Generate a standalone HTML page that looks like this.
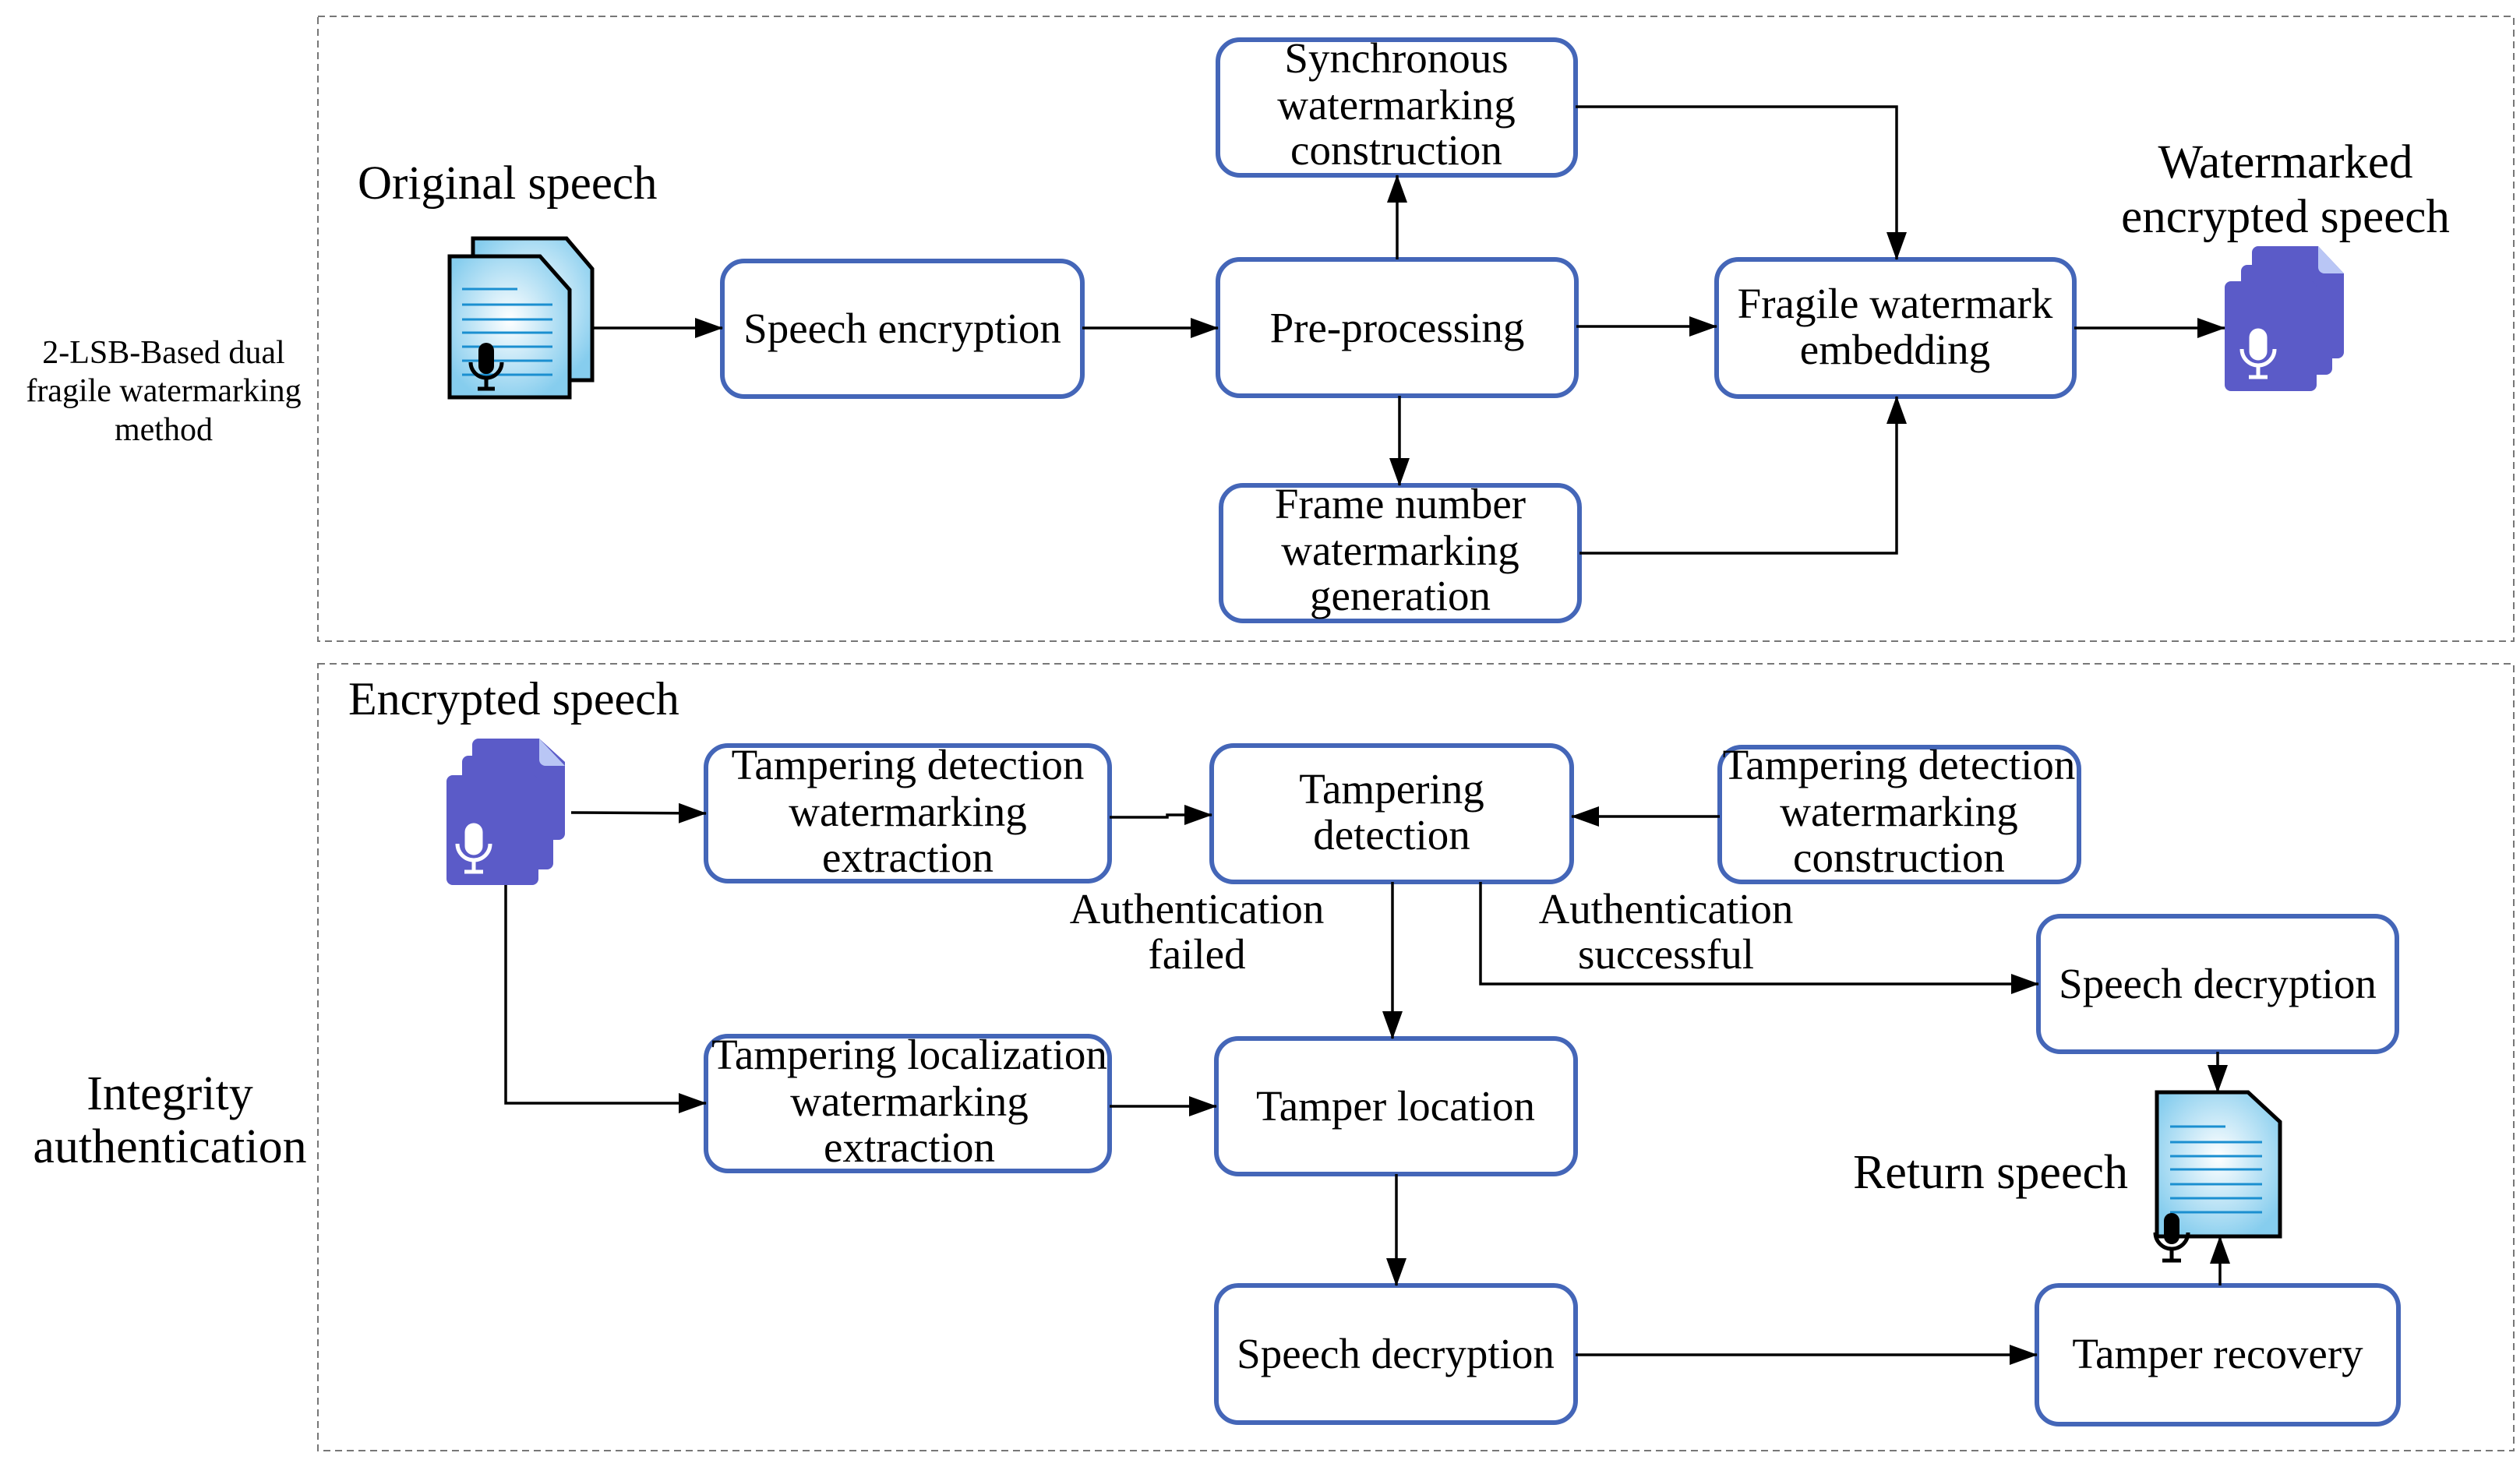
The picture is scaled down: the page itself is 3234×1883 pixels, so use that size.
<!DOCTYPE html>
<html><head><meta charset="utf-8"><style>
html,body{margin:0;padding:0;background:#fff;}
svg{display:block;}
text{font-family:"Liberation Serif",serif;fill:#000;}
.b{fill:#fff;stroke:#4466b8;stroke-width:6;}
.l{fill:none;stroke:#000;stroke-width:3.5;}
.t{font-size:55px;text-anchor:middle;}
</style></head><body>
<svg width="3234" height="1883" viewBox="0 0 3234 1883" xmlns="http://www.w3.org/2000/svg">
<defs>
<marker id="ar" viewBox="0 0 36 26" refX="35" refY="13" markerWidth="36" markerHeight="26" orient="auto" markerUnits="userSpaceOnUse"><path d="M0,0 L36,13 L0,26 Z" fill="#000"/></marker>
<radialGradient id="bg" cx="50%" cy="45%" r="60%"><stop offset="0" stop-color="#ffffff"/><stop offset="1" stop-color="#86cdee"/></radialGradient>
</defs>

<rect x="408" y="21" width="2818" height="802" fill="none" stroke="#777" stroke-width="2" stroke-dasharray="9,6"/>
<rect x="408" y="852" width="2818" height="1010" fill="none" stroke="#777" stroke-width="2" stroke-dasharray="9,6"/>

<text x="210" y="466" font-size="42" text-anchor="middle">2-LSB-Based dual</text>
<text x="210" y="515" font-size="42" text-anchor="middle">fragile watermarking</text>
<text x="210" y="565" font-size="42" text-anchor="middle">method</text>
<text x="218" y="1424" font-size="62" text-anchor="middle">Integrity</text>
<text x="218" y="1492" font-size="62" text-anchor="middle">authentication</text>

<text x="459" y="255" font-size="61">Original speech</text>
<text x="2933" y="228" font-size="61" text-anchor="middle">Watermarked</text>
<text x="2933" y="298" font-size="61" text-anchor="middle">encrypted speech</text>
<text x="447" y="917" font-size="60">Encrypted speech</text>
<text x="2731" y="1525" font-size="62" text-anchor="end">Return speech</text>

<g stroke="#000" stroke-width="5">
<path d="M607,306 L727,306 L760,345 L760,488 L607,488 Z" fill="url(#bg)"/>
<path d="M577,329 L693,329 L731,372 L731,510 L577,510 Z" fill="url(#bg)"/>
</g>
<g stroke="#1b8fd0" stroke-width="3">
<line x1="593" y1="371" x2="664" y2="371"/><line x1="593" y1="391" x2="709" y2="391"/><line x1="593" y1="410" x2="709" y2="410"/><line x1="593" y1="427" x2="709" y2="427"/><line x1="593" y1="445" x2="709" y2="445"/><line x1="593" y1="463" x2="709" y2="463"/><line x1="593" y1="481" x2="709" y2="481"/>
</g>
<g><rect x="614" y="440" width="20" height="40" rx="10" fill="#000"/><path d="M604,465 a20,20 0 0 0 40,0" fill="none" stroke="#000" stroke-width="5"/><line x1="624" y1="485" x2="624" y2="498" stroke="#000" stroke-width="5"/><line x1="613" y1="499" x2="635" y2="499" stroke="#000" stroke-width="5"/></g>

<g fill="#5b5bc8">
<path d="M2898,316 L2975,316 L3008,351 L3008,452 a8,8 0 0 1 -8,8 L2898,460 a8,8 0 0 1 -8,-8 L2890,324 a8,8 0 0 1 8,-8Z"/>
<rect x="2876" y="340" width="117" height="141" rx="8"/>
<rect x="2855" y="361" width="118" height="141" rx="8"/>
<path d="M2975,316 L3008,351 L2983,351 a8,8 0 0 1 -8,-8Z" fill="#b9c6f5"/>
</g>
<g stroke="#fff" fill="none" stroke-width="5"><rect x="2889" y="424" width="18" height="36" rx="9" fill="#fff"/><path d="M2877,448 a21,21 0 0 0 42,0"/><line x1="2898" y1="470" x2="2898" y2="484"/><line x1="2886" y1="484" x2="2910" y2="484"/></g>

<g fill="#5b5bc8">
<path d="M614,948 L692,948 L725,978 L725,1070 a8,8 0 0 1 -8,8 L614,1078 a8,8 0 0 1 -8,-8 L606,956 a8,8 0 0 1 8,-8Z"/>
<rect x="593" y="970" width="117" height="146" rx="8"/>
<rect x="573" y="995" width="118" height="141" rx="8"/>
<path d="M692,948 L725,983 L700,983 a8,8 0 0 1 -8,-8Z" fill="#b9c6f5"/>
</g>
<g stroke="#fff" fill="none" stroke-width="5"><rect x="599" y="1059" width="18" height="36" rx="9" fill="#fff"/><path d="M587,1083 a21,21 0 0 0 42,0"/><line x1="608" y1="1105" x2="608" y2="1119"/><line x1="596" y1="1119" x2="620" y2="1119"/></g>

<path d="M2768,1402 L2885,1402 L2926,1440 L2926,1587 L2768,1587 Z" fill="url(#bg)" stroke="#000" stroke-width="5"/>
<g stroke="#1b8fd0" stroke-width="3">
<line x1="2785" y1="1446" x2="2856" y2="1446"/><line x1="2785" y1="1466" x2="2903" y2="1466"/><line x1="2785" y1="1484" x2="2903" y2="1484"/><line x1="2785" y1="1501" x2="2903" y2="1501"/><line x1="2785" y1="1520" x2="2903" y2="1520"/><line x1="2785" y1="1538" x2="2903" y2="1538"/><line x1="2785" y1="1556" x2="2903" y2="1556"/>
</g>
<g><rect x="2777" y="1557" width="20" height="40" rx="10" fill="#000"/><path d="M2766,1582 a21,21 0 0 0 42,0" fill="none" stroke="#000" stroke-width="5"/><line x1="2787" y1="1604" x2="2787" y2="1617" stroke="#000" stroke-width="5"/><line x1="2775" y1="1618" x2="2799" y2="1618" stroke="#000" stroke-width="5"/></g>

<rect class="b" x="927" y="335" width="462" height="174" rx="28"/>
<text class="t" x="1158" y="440">Speech encryption</text>
<rect class="b" x="1563" y="51" width="459" height="174" rx="28"/>
<text class="t" x="1792" y="93">Synchronous</text><text class="t" x="1792" y="153">watermarking</text><text class="t" x="1792" y="211">construction</text>
<rect class="b" x="1563" y="333" width="460" height="175" rx="28"/>
<text class="t" x="1793" y="439">Pre-processing</text>
<rect class="b" x="1567" y="623" width="460" height="174" rx="28"/>
<text class="t" x="1797" y="665">Frame number</text><text class="t" x="1797" y="725">watermarking</text><text class="t" x="1797" y="783">generation</text>
<rect class="b" x="2203" y="333" width="459" height="176" rx="28"/>
<text class="t" x="2432" y="408">Fragile watermark</text><text class="t" x="2432" y="467">embedding</text>

<rect class="b" x="906" y="957" width="518" height="174" rx="28"/>
<text class="t" x="1165" y="1000">Tampering detection</text><text class="t" x="1165" y="1060">watermarking</text><text class="t" x="1165" y="1119">extraction</text>
<rect class="b" x="1555" y="957" width="462" height="175" rx="28"/>
<text class="t" x="1786" y="1031">Tampering</text><text class="t" x="1786" y="1090">detection</text>
<rect class="b" x="2207" y="959" width="461" height="173" rx="28"/>
<text class="t" x="2437" y="1000">Tampering detection</text><text class="t" x="2437" y="1060">watermarking</text><text class="t" x="2437" y="1119">construction</text>
<rect class="b" x="2616" y="1176" width="460" height="174" rx="28"/>
<text class="t" x="2846" y="1281">Speech decryption</text>
<rect class="b" x="906" y="1330" width="518" height="173" rx="28"/>
<text class="t" x="1167" y="1372">Tampering localization</text><text class="t" x="1167" y="1432">watermarking</text><text class="t" x="1167" y="1491">extraction</text>
<rect class="b" x="1561" y="1333" width="461" height="174" rx="28"/>
<text class="t" x="1791" y="1438">Tamper location</text>
<rect class="b" x="1561" y="1650" width="461" height="176" rx="28"/>
<text class="t" x="1791" y="1756">Speech decryption</text>
<rect class="b" x="2614" y="1650" width="464" height="178" rx="28"/>
<text class="t" x="2846" y="1756">Tamper recovery</text>

<text class="t" x="1536" y="1185">Authentication</text><text class="t" x="1536" y="1243">failed</text>
<text class="t" x="2138" y="1185">Authentication</text><text class="t" x="2138" y="1243">successful</text>

<g class="l" marker-end="url(#ar)">
<path class="l" d="M760,421 L927,421"/>
<path class="l" d="M1389,421 L1563,421"/>
<path class="l" d="M1793,333 L1793,225"/>
<path class="l" d="M1796,508 L1796,623"/>
<path class="l" d="M2023,419 L2203,419"/>
<path class="l" d="M2022,137 L2434,137 L2434,333"/>
<path class="l" d="M2027,710 L2434,710 L2434,509"/>
<path class="l" d="M2662,421 L2855,421"/>
<path class="l" d="M733,1043 L906,1044"/>
<path class="l" d="M1424,1049 L1498,1049 L1498,1046 L1555,1046"/>
<path class="l" d="M2207,1048 L2017,1048"/>
<path class="l" d="M1787,1132 L1787,1333"/>
<path class="l" d="M1900,1132 L1900,1263 L2616,1263"/>
<path class="l" d="M649,1136 L649,1416 L906,1416"/>
<path class="l" d="M1424,1420 L1561,1420"/>
<path class="l" d="M1792,1507 L1792,1650"/>
<path class="l" d="M2022,1739 L2614,1739"/>
<path class="l" d="M2849,1650 L2849,1587"/>
<path class="l" d="M2846,1350 L2846,1402"/>
</g>
</svg>
</body></html>
